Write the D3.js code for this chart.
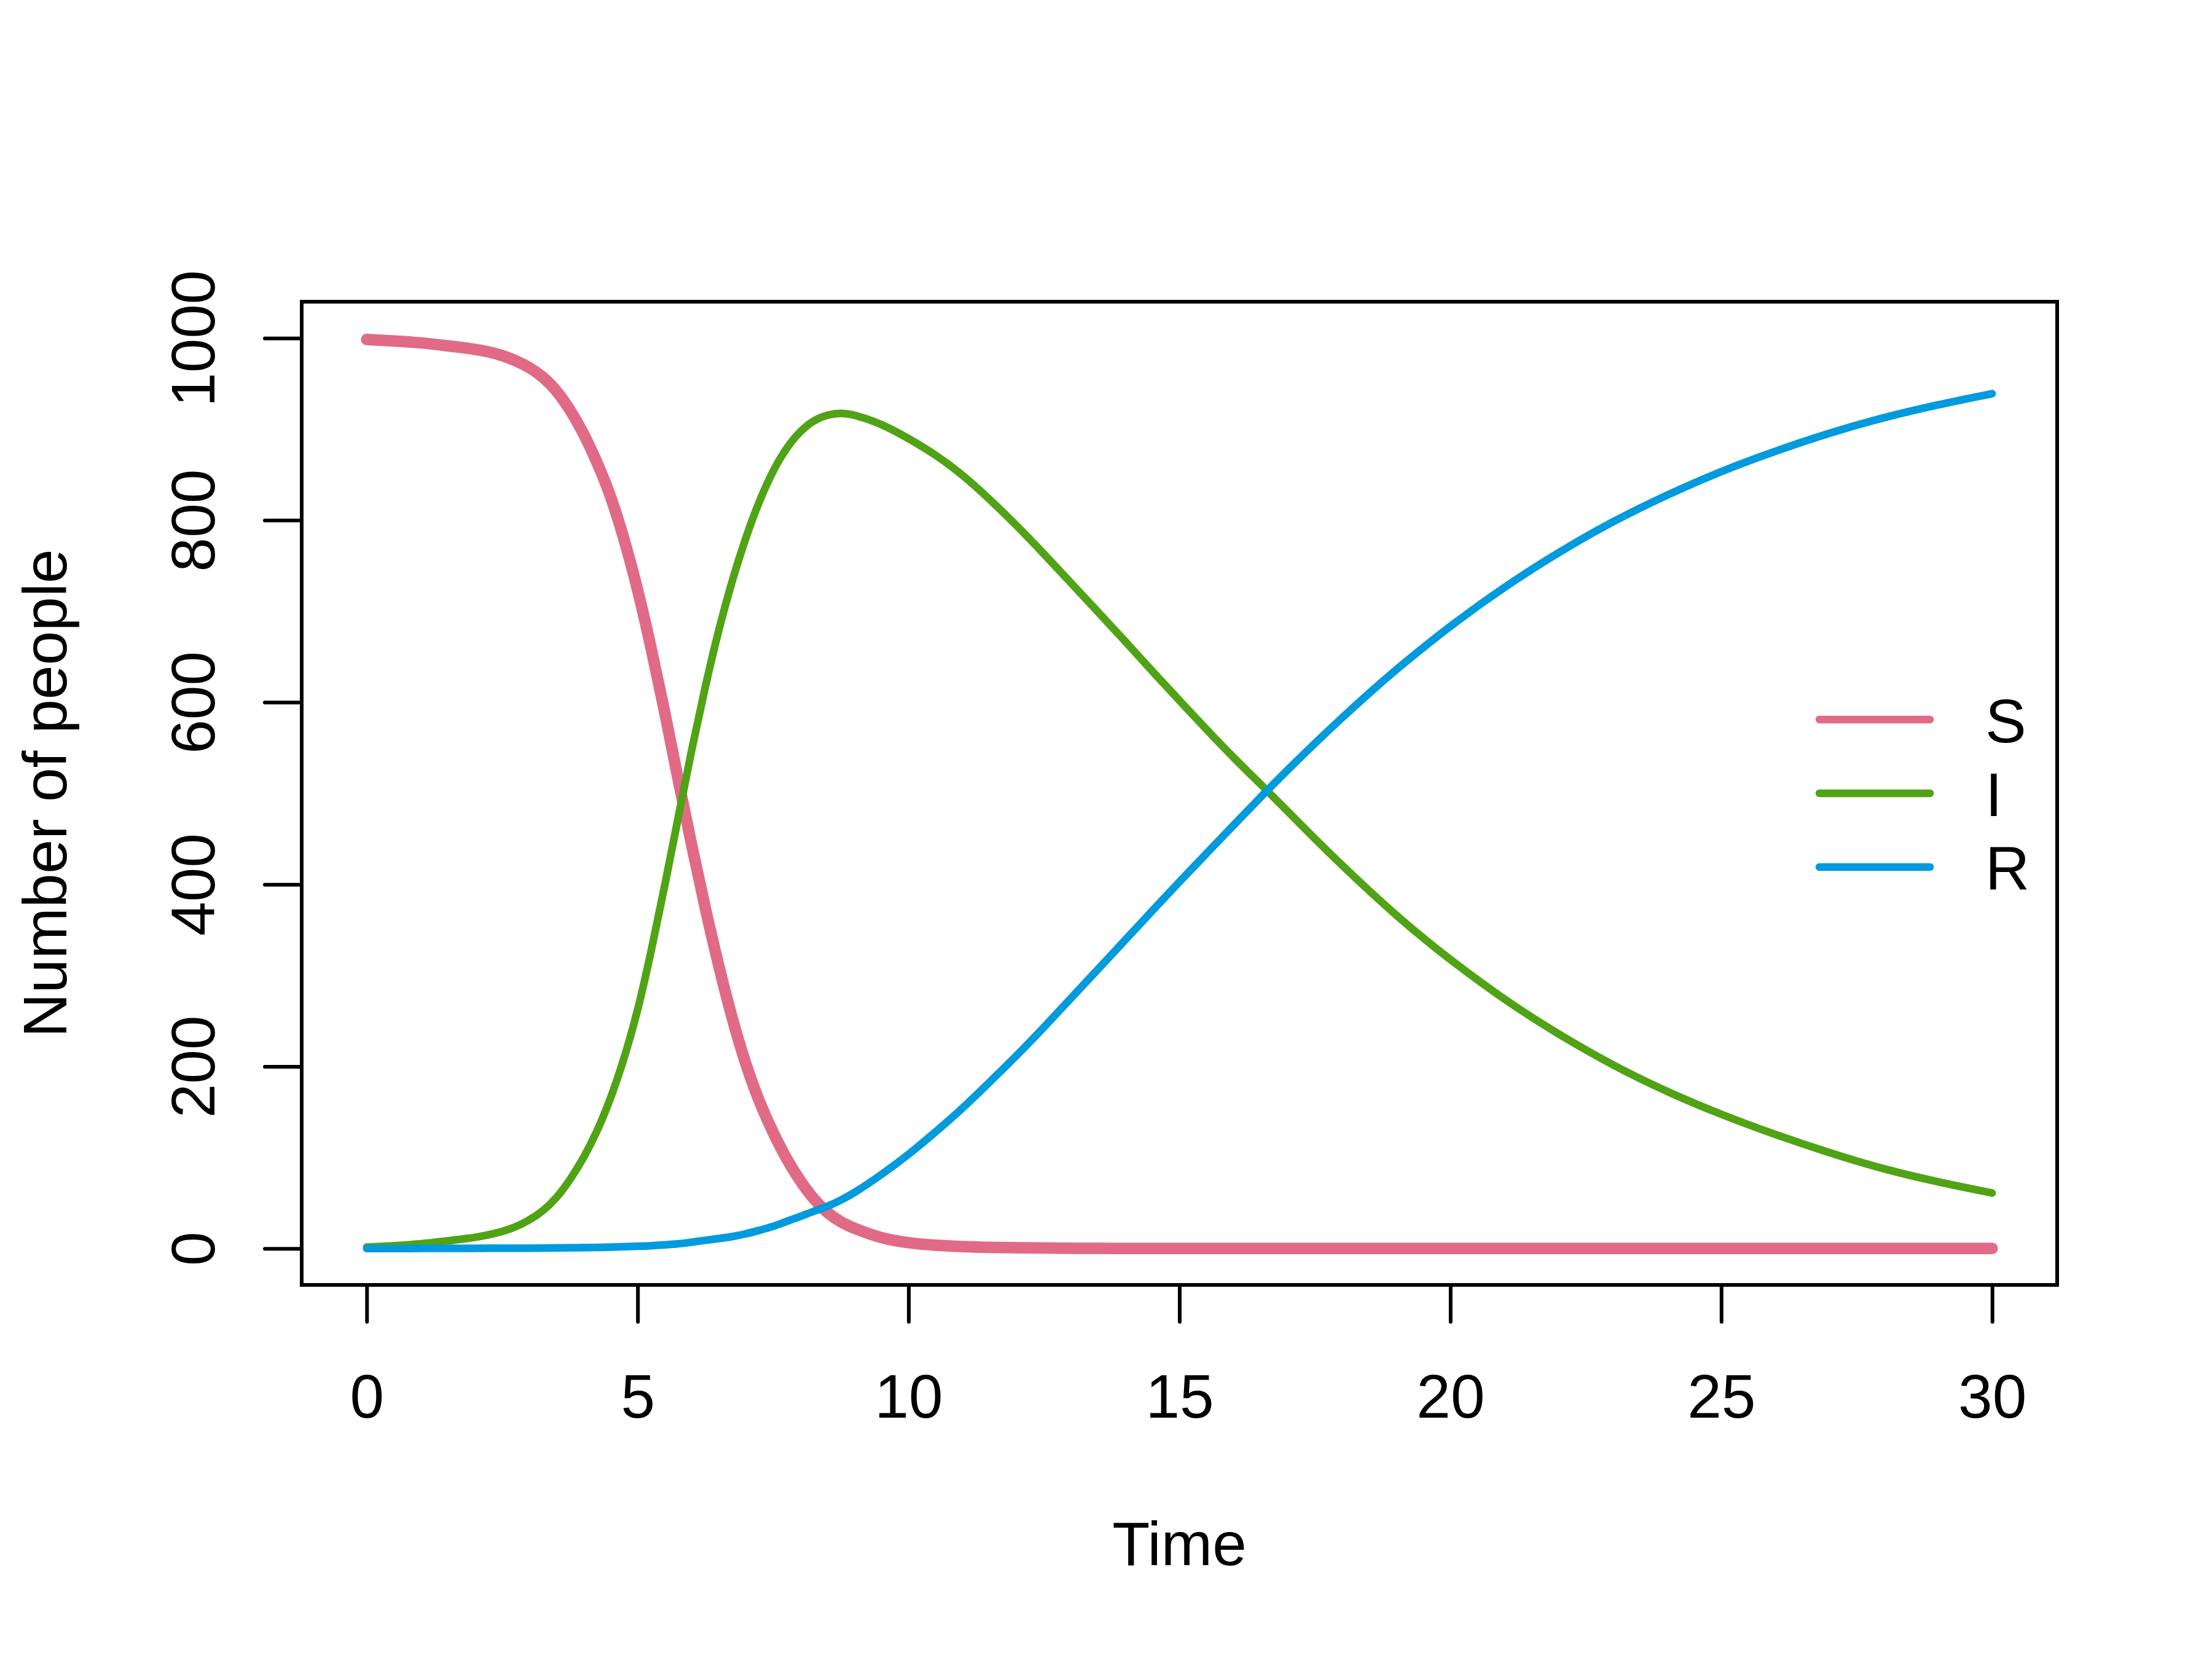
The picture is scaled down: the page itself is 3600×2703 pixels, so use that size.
<!DOCTYPE html>
<html>
<head>
<meta charset="utf-8">
<script src="https://cdn.jsdelivr.net/npm/d3@7"></script>
<style>
  html, body { margin: 0; padding: 0; background: #ffffff; }
  svg { display: block; }
  text { font-family: "Liberation Sans", Arial, Helvetica, sans-serif; fill: #000; }
</style>
</head>
<body>
<script>
// ---- Data ----
const times = [0,0.5,1,1.5,2,2.25,2.5,2.75,3,3.25,3.5,3.75,4,4.25,4.5,4.75,5,5.25,5.5,5.75,6,6.25,6.5,6.75,7,7.25,7.5,7.75,8,8.25,8.5,8.75,9,9.5,10,10.5,11,11.5,12,12.5,13,13.5,14,14.5,15,15.5,16,16.5,17,17.5,18,18.5,19,19.5,20,21,22,23,24,25,26,27,28,29,30];

const susceptible = [998.5,997,995,991.5,988,985,981,975.5,968,958,943,922,896,864,828,780,725,660,590,514,442,373,309,251,201,160,127,98,74,54,39,29,22,11,6,3.5,2,1.3,0.8,0.5,0.3,0.2,0.1,0,0,0,0,0,0,0,0,0,0,0,0,0,0,0,0,0,0,0,0,0,0];

const infected = [1.5,3,5,8.5,12,15,18.5,23.5,31,41,55,75,99,128,164,208,260,326,398,474,549,618,681,735,782,822,855,880,898,910,916,918,916,906,890,872,850,823,794,763,731,699,667,634,602,570,539,510,480,450,421,393,366,341,317,273,235,201,172,147,125,105,87,73,61];

const recovered = [0,0,0.1,0.1,0.2,0.25,0.3,0.35,0.4,0.5,0.6,0.8,1,1.2,1.5,2,2.5,3,4,5,7,9,11,13,16,20,24,30,35,41,46,53,61,81,103,128,154,183,212,243,275,307,339,371,403,434,465,496,526,555,583,610,636,660,684,727,765,799,828,854,876,896,913,927,939];

const seriesNames = ["S", "I", "R"];
const seriesColors = ["#E16A86", "#50A315", "#009ADE"];
const seriesWidths = [18.75, 12.5, 12.5];

const xTicks = [0, 5, 10, 15, 20, 25, 30];
const yTicks = [0, 200, 400, 600, 800, 1000];
const xLabel = "Time";
const yLabel = "Number of people";

// ---- Layout ----
const W = 3600, H = 2703;
const box = { left: 491, right: 3348, top: 491, bottom: 2091 };

const x = d3.scaleLinear().domain([-1.2, 31.2]).range([box.left, box.right]);
const y = d3.scaleLinear().domain([-40, 1040]).range([box.bottom, box.top]);

const svg = d3.select("body").append("svg")
  .attr("width", W).attr("height", H)
  .attr("viewBox", `0 0 ${W} ${H}`);

svg.append("rect").attr("width", W).attr("height", H).attr("fill", "#fff");

// ---- Lines ----
const seriesValues = [susceptible, infected, recovered];
const line = d3.line()
  .x(d => x(d[0]))
  .y(d => y(d[1]))
  .curve(d3.curveBasis);

seriesValues.forEach((vals, i) => {
  const pts = times.map((t, j) => [t, vals[j]]);
  svg.append("path")
    .datum(pts)
    .attr("d", line)
    .attr("fill", "none")
    .attr("stroke", seriesColors[i])
    .attr("stroke-width", seriesWidths[i])
    .attr("stroke-linecap", "round")
    .attr("stroke-linejoin", "round");
});

// ---- Box ----
svg.append("rect")
  .attr("x", box.left).attr("y", box.top)
  .attr("width", box.right - box.left).attr("height", box.bottom - box.top)
  .attr("fill", "none").attr("stroke", "#000").attr("stroke-width", 6);

// ---- X axis ----
const gx = svg.append("g")
  .attr("transform", `translate(0,${box.bottom})`)
  .call(d3.axisBottom(x).tickValues(xTicks).tickSize(60).tickFormat(d3.format("d")));
gx.select(".domain").remove();
gx.selectAll(".tick line").attr("stroke", "#000").attr("stroke-width", 6).attr("stroke-linecap", "round");
gx.selectAll(".tick text")
  .attr("y", 216).attr("dy", null)
  .attr("font-size", 100)
  .attr("text-anchor", "middle")
  .attr("font-family", "Liberation Sans, Arial, Helvetica, sans-serif")
  .attr("fill", "#000");

// ---- Y axis ----
const gy = svg.append("g")
  .attr("transform", `translate(${box.left},0)`)
  .call(d3.axisLeft(y).tickValues(yTicks).tickSize(60).tickFormat(d3.format("d")));
gy.select(".domain").remove();
gy.selectAll(".tick line").attr("stroke", "#000").attr("stroke-width", 6).attr("stroke-linecap", "round");
gy.selectAll(".tick text")
  .attr("x", null).attr("dy", null)
  .attr("text-anchor", "middle")
  .attr("transform", "translate(-142,0) rotate(-90)")
  .attr("font-size", 100)
  .attr("font-family", "Liberation Sans, Arial, Helvetica, sans-serif")
  .attr("fill", "#000");

// ---- Axis titles ----
svg.append("text")
  .attr("x", (box.left + box.right) / 2).attr("y", 2547)
  .attr("text-anchor", "middle").attr("font-size", 100)
  .text(xLabel);

svg.append("text")
  .attr("transform", `translate(108,${(box.top + box.bottom) / 2}) rotate(-90)`)
  .attr("text-anchor", "middle").attr("font-size", 100)
  .text(yLabel);

// ---- Legend ----
const legendY = [1171, 1291, 1411];
const legend = svg.append("g");
seriesNames.forEach((name, i) => {
  legend.append("line")
    .attr("x1", 2961).attr("x2", 3141)
    .attr("y1", legendY[i]).attr("y2", legendY[i])
    .attr("stroke", seriesColors[i]).attr("stroke-width", 12.5)
    .attr("stroke-linecap", "round");
  legend.append("text")
    .attr("x", 3231).attr("y", legendY[i] + 37)
    .attr("font-size", 100)
    .text(name);
});
</script>
</body>
</html>
